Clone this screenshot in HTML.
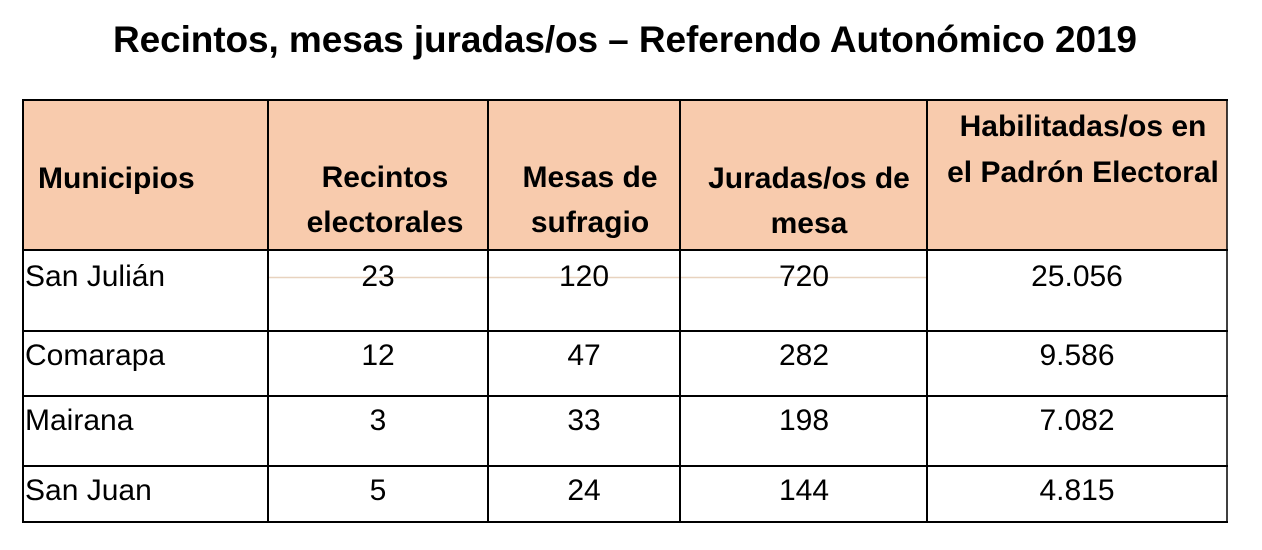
<!DOCTYPE html>
<html>
<head>
<meta charset="utf-8">
<style>
  html,body{margin:0;padding:0;background:#fff;}
  body{width:1262px;height:550px;overflow:hidden;}
  svg{display:block;}
  text{font-family:"Liberation Sans", sans-serif;fill:#000;}
  .h{font-weight:bold;font-size:30px;}
  .d{font-size:30px;}
</style>
</head>
<body>
<svg width="1262" height="550" viewBox="0 0 1262 550" xmlns="http://www.w3.org/2000/svg">
  <rect x="0" y="0" width="1262" height="550" fill="#ffffff"/>
  <!-- Title -->
  <text x="113" y="52" font-size="37" font-weight="bold" textLength="1024" lengthAdjust="spacing">Recintos, mesas juradas/os – Referendo Autonómico 2019</text>

  <!-- Header fill -->
  <rect x="23" y="100" width="1204" height="150" fill="#F8CBAD"/>

  <!-- faint tan line in row 1 -->
  <line x1="269" y1="277.5" x2="926" y2="277.5" stroke="#E8D3BF" stroke-width="1.5"/>

  <!-- Horizontal lines -->
  <g stroke="#000" stroke-width="2">
    <line x1="22" y1="100" x2="1228" y2="100"/>
    <line x1="22" y1="250" x2="1228" y2="250"/>
    <line x1="22" y1="331" x2="1228" y2="331"/>
    <line x1="22" y1="396" x2="1228" y2="396"/>
    <line x1="22" y1="466" x2="1228" y2="466"/>
    <line x1="22" y1="522" x2="1228" y2="522"/>
  </g>
  <!-- Vertical lines -->
  <g stroke="#000" stroke-width="2">
    <line x1="23" y1="99" x2="23" y2="523"/>
    <line x1="268" y1="99" x2="268" y2="523"/>
    <line x1="488" y1="99" x2="488" y2="523"/>
    <line x1="680" y1="99" x2="680" y2="523"/>
    <line x1="927" y1="99" x2="927" y2="523"/>
  </g>
  <line x1="1227" y1="99" x2="1227" y2="523" stroke="#000" stroke-width="1.5"/>

  <!-- Header text -->
  <text class="h" x="38" y="188">Municipios</text>
  <text class="h" x="385" y="187" text-anchor="middle">Recintos</text>
  <text class="h" x="385" y="232" text-anchor="middle">electorales</text>
  <text class="h" x="590" y="187" text-anchor="middle">Mesas de</text>
  <text class="h" x="590" y="232" text-anchor="middle">sufragio</text>
  <text class="h" x="809" y="188" text-anchor="middle">Juradas/os de</text>
  <text class="h" x="809" y="233" text-anchor="middle">mesa</text>
  <text class="h" x="1083" y="136" text-anchor="middle">Habilitadas/os en</text>
  <text class="h" x="1083" y="182" text-anchor="middle">el Padrón Electoral</text>

  <!-- Row 1 -->
  <text class="d" x="25" y="286">San Julián</text>
  <text class="d" x="378" y="286" text-anchor="middle">23</text>
  <text class="d" x="584" y="286" text-anchor="middle">120</text>
  <text class="d" x="804" y="286" text-anchor="middle">720</text>
  <text class="d" x="1077" y="286" text-anchor="middle">25.056</text>

  <!-- Row 2 -->
  <text class="d" x="25" y="365">Comarapa</text>
  <text class="d" x="378" y="365" text-anchor="middle">12</text>
  <text class="d" x="584" y="365" text-anchor="middle">47</text>
  <text class="d" x="804" y="365" text-anchor="middle">282</text>
  <text class="d" x="1077" y="365" text-anchor="middle">9.586</text>

  <!-- Row 3 -->
  <text class="d" x="25" y="430">Mairana</text>
  <text class="d" x="378" y="430" text-anchor="middle">3</text>
  <text class="d" x="584" y="430" text-anchor="middle">33</text>
  <text class="d" x="804" y="430" text-anchor="middle">198</text>
  <text class="d" x="1077" y="430" text-anchor="middle">7.082</text>

  <!-- Row 4 -->
  <text class="d" x="25" y="500">San Juan</text>
  <text class="d" x="378" y="500" text-anchor="middle">5</text>
  <text class="d" x="584" y="500" text-anchor="middle">24</text>
  <text class="d" x="804" y="500" text-anchor="middle">144</text>
  <text class="d" x="1077" y="500" text-anchor="middle">4.815</text>
</svg>
</body>
</html>
